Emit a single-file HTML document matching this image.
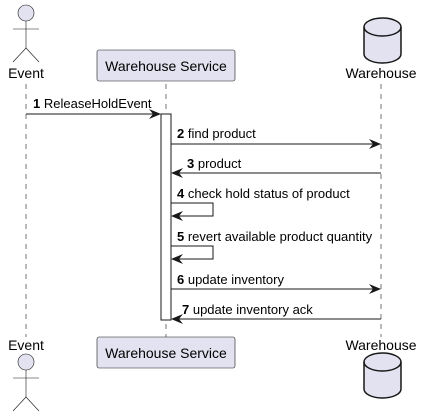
<!DOCTYPE html>
<html><head><style>
html,body{margin:0;padding:0;background:#fff;}
svg{display:block;font-family:"Liberation Sans",sans-serif;}
</style></head><body>
<svg width="421" height="418" viewBox="0 0 421 418" xmlns="http://www.w3.org/2000/svg">
<defs>
<marker id="ar" viewBox="0 0 12 10" refX="11" refY="5" markerWidth="12" markerHeight="10" markerUnits="userSpaceOnUse" orient="auto">
<path d="M0,0 L12,5 L0,10 L4,5 Z" fill="#181818"/>
</marker>
</defs>
<g stroke="#181818" stroke-width="0.6" stroke-dasharray="5,5">
<line x1="26" y1="84" x2="26" y2="337"/>
<line x1="166" y1="84" x2="166" y2="337"/>
<line x1="381" y1="84" x2="381" y2="337"/>
</g>
<g fill="#E2E2F0" stroke="#181818" stroke-width="0.6">
<circle cx="26" cy="13" r="8"/>
<line x1="26" y1="21" x2="26" y2="48"/>
<line x1="13" y1="29" x2="39" y2="29"/>
<polyline points="13,62 26,48 39,62" fill="none"/>
<circle cx="26" cy="362" r="8"/>
<line x1="26" y1="370" x2="26" y2="397"/>
<line x1="13" y1="378" x2="39" y2="378"/>
<polyline points="13,411 26,397 39,411" fill="none"/>
</g>
<g font-size="14" fill="#000" text-anchor="middle">
<text x="26" y="78">Event</text>
<text x="26" y="350">Event</text>
<text x="381" y="78">Warehouse</text>
<text x="381" y="350">Warehouse</text>
</g>
<rect x="97" y="50" width="138" height="31" rx="2" fill="#E2E2F0" stroke="#181818" stroke-width="0.6"/>
<rect x="97" y="337" width="138" height="31" rx="2" fill="#E2E2F0" stroke="#181818" stroke-width="0.6"/>
<g font-size="14" fill="#000" text-anchor="middle">
<text x="166" y="71">Warehouse Service</text>
<text x="166" y="358">Warehouse Service</text>
</g>
<g fill="#E2E2F0" stroke="#181818" stroke-width="1.5">
<path d="M364,27 A18.5,9 0 0 1 401,27 L401,54 A18.5,9 0 0 1 364,54 Z"/>
<path d="M364,27 A18.5,9 0 0 0 401,27" fill="none"/>
<path d="M364,362 A18.5,9 0 0 1 401,362 L401,389 A18.5,9 0 0 1 364,389 Z"/>
<path d="M364,362 A18.5,9 0 0 0 401,362" fill="none"/>
</g>
<rect x="161" y="114" width="10" height="206" fill="#fff" stroke="#181818" stroke-width="1"/>
<g stroke="#181818" stroke-width="1" fill="none" marker-end="url(#ar)">
<line x1="26" y1="114" x2="160" y2="114"/>
<line x1="171" y1="144" x2="380" y2="144"/>
<line x1="381" y1="173" x2="172" y2="173"/>
<polyline points="171,203 213,203 213,216 172,216"/>
<polyline points="171,246 213,246 213,259 172,259"/>
<line x1="171" y1="289" x2="380" y2="289"/>
<line x1="381" y1="319" x2="172" y2="319"/>
</g>
<g font-size="13" fill="#000">
<text x="33" y="108"><tspan font-weight="bold">1</tspan> ReleaseHoldEvent</text>
<text x="177" y="138"><tspan font-weight="bold">2</tspan> find product</text>
<text x="187" y="168"><tspan font-weight="bold">3</tspan> product</text>
<text x="177" y="198"><tspan font-weight="bold">4</tspan> check hold status of product</text>
<text x="177" y="241"><tspan font-weight="bold">5</tspan> revert available product quantity</text>
<text x="177" y="284"><tspan font-weight="bold">6</tspan> update inventory</text>
<text x="182" y="314"><tspan font-weight="bold">7</tspan> update inventory ack</text>
</g>
</svg>
</body></html>
